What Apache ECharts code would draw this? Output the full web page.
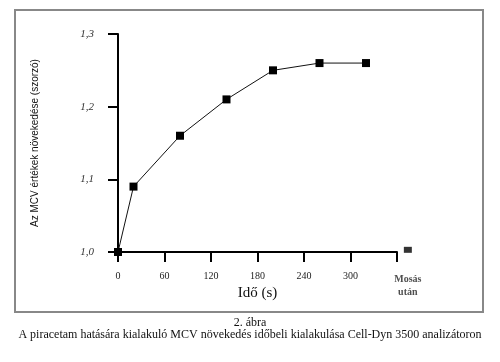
<!DOCTYPE html>
<html>
<head>
<meta charset="utf-8">
<script src="https://cdn.jsdelivr.net/npm/echarts@6/dist/echarts.min.js"></script>
<style>html,body{margin:0;padding:0;background:#fff}#c{width:500px;height:362px}</style>
</head>
<body>
<div id="c"></div>
<script>
// Data
const times = [0, 20, 80, 140, 200, 260, 320];
const values = [1.0, 1.09, 1.16, 1.21, 1.25, 1.26, 1.26];
const afterWashTime = [374];
const afterWashValue = [1.003];
const afterWashLabel = 'Mosás\nután';
const xTicks = [0, 60, 120, 180, 240, 300];
const yTicks = [1.0, 1.1, 1.2, 1.3];
const yTitle = 'Az MCV értékek növekedése (szorzó)';
const xTitle = 'Idő (s)';
const caption1 = '2. ábra';
const caption2 = 'A piracetam hatására kialakuló MCV növekedés időbeli kialakulása Cell-Dyn 3500 analizátoron';

const chart = echarts.init(document.getElementById('c'));
const serif = '"Liberation Serif", "DejaVu Serif", serif';
const sans = '"Liberation Sans", Arial, sans-serif';
chart.setOption({
  animation: false,
  title: [
    {text: caption1, left: 'center', top: 317, padding: 0, textStyle: {fontFamily: serif, fontSize: 12, fontWeight: 'normal', color: '#111'}},
    {text: caption2, left: 'center', top: 329, padding: 0, textStyle: {fontFamily: serif, fontSize: 12, fontWeight: 'normal', color: '#111'}}
  ],
  graphic: [{
    type: 'rect', shape: {x: 15, y: 10, width: 468, height: 302},
    style: {fill: 'none', stroke: '#888', lineWidth: 2}, silent: true
  }],
  grid: {left: 118, right: 103, top: 34, bottom: 110},
  xAxis: {
    type: 'value', min: 0, max: 360, interval: 60,
    axisLine: {show: true, lineStyle: {color: '#000', width: 2}},
    axisTick: {show: true, length: 10, lineStyle: {color: '#000', width: 2}},
    splitLine: {show: false},
    axisLabel: {
      margin: 19, fontFamily: serif, fontSize: 10, color: '#222',
      formatter: v => xTicks.indexOf(v) >= 0 ? String(v) : ''
    },
    name: xTitle, nameLocation: 'middle', nameGap: 30,
    nameTextStyle: {fontFamily: serif, fontSize: 15, color: '#111'}
  },
  yAxis: {
    type: 'value', min: 1.0, max: 1.3, interval: 0.1,
    axisLine: {show: true, lineStyle: {color: '#000', width: 2}},
    axisTick: {show: true, length: 10, lineStyle: {color: '#000', width: 2}},
    splitLine: {show: false},
    axisLabel: {
      margin: 24, fontFamily: serif, fontSize: 11, fontStyle: 'italic', color: '#333',
      formatter: v => { const t = yTicks.find(y => Math.abs(y - v) < 1e-6); return t === undefined ? '' : t.toFixed(1).replace('.', ','); }
    },
    name: yTitle, nameLocation: 'middle', nameGap: 78, nameRotate: 90,
    nameTextStyle: {fontFamily: sans, fontSize: 10, color: '#111'}
  },
  series: [{
    type: 'line',
    data: times.map((t, i) => [t, values[i]]),
    symbol: 'rect', symbolSize: 8,
    lineStyle: {color: '#111', width: 1},
    itemStyle: {color: '#000'},
    clip: false
  }, {
    type: 'scatter',
    data: afterWashTime.map((t, i) => [t, afterWashValue[i]]),
    symbol: 'rect', symbolSize: [8, 6],
    itemStyle: {color: '#000'},
    clip: false,
    label: {show: true, position: 'bottom', distance: 20, formatter: afterWashLabel,
      fontFamily: serif, fontSize: 10, fontWeight: 'bold', color: '#222', lineHeight: 13, align: 'center'}
  }]
});
</script>
</body>
</html>
